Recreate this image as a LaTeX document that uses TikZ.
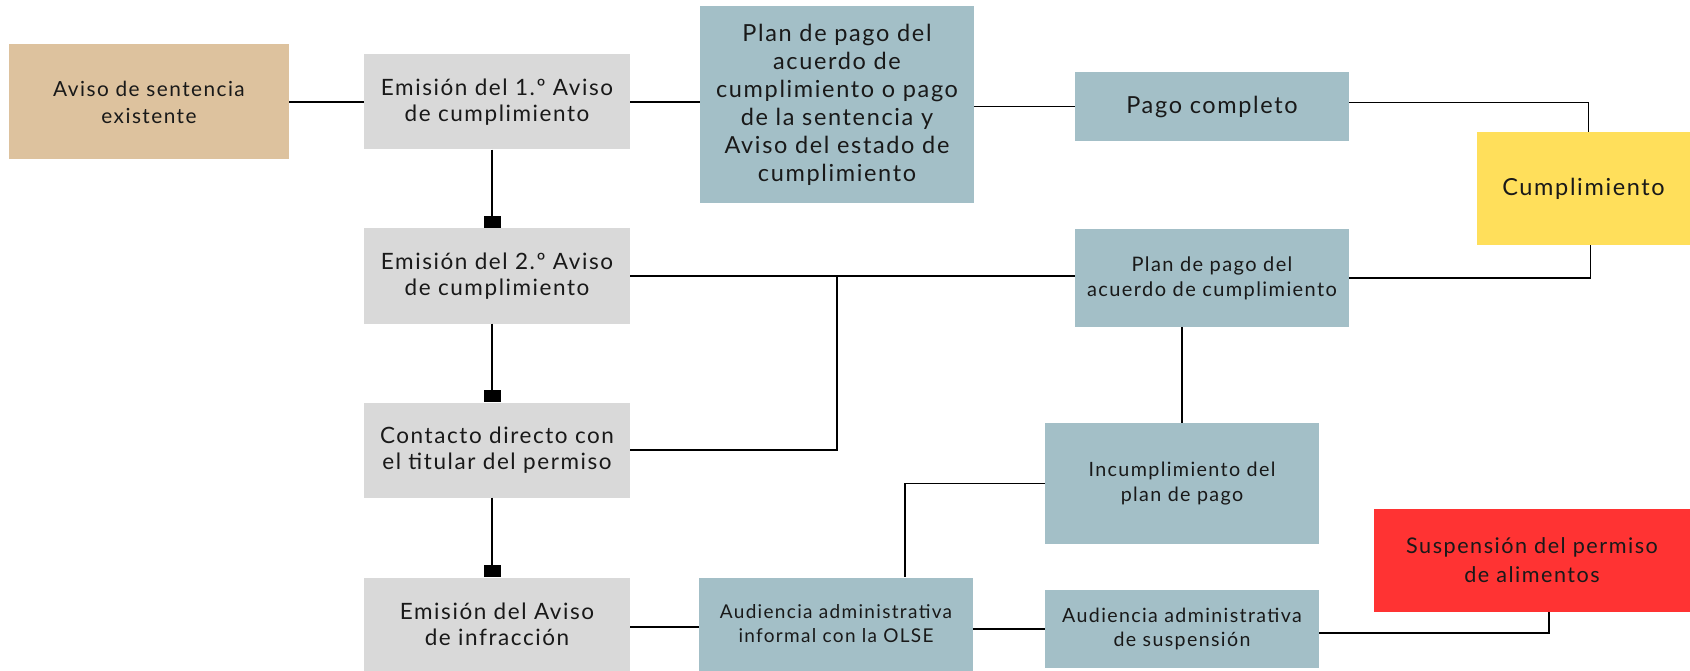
\documentclass[tikz,border=0pt]{standalone}
\usepackage{fontspec}
\setmainfont{Lato}[LetterSpace=7]
\usetikzlibrary{arrows.meta}
\definecolor{tanbox}{RGB}{221,194,158}
\definecolor{greybox}{RGB}{217,217,217}
\definecolor{bluebox}{RGB}{163,191,199}
\definecolor{yellowbox}{RGB}{255,223,91}
\definecolor{redbox}{RGB}{255,51,51}
\tikzstyle{block} = [rectangle, align=center, inner sep=0pt, text=black!90,
    font=\fontsize{22.5}{26}\selectfont]
\tikzstyle{grey block} = [block, fill=greybox, minimum width=266pt, minimum height=95pt]
\tikzstyle{blue block} = [block, fill=bluebox, minimum width=274pt]
\tikzstyle{line} = [draw, line width=1.8pt]
\tikzstyle{sqline} = [line, -{Square[length=12pt,width=17pt]}]

\begin{document}
\begin{tikzpicture}[x=1pt, y=-1pt]
    \useasboundingbox (0,0) rectangle (1690,671);
    % Place nodes
    \node [block, fill=tanbox, minimum width=280pt, minimum height=115pt, font=\fontsize{20.8}{27}\selectfont] (aviso) at (149,102) {Aviso de sentencia\\existente};
    \node [grey block, right of=aviso, node distance=348pt] (emision1) {Emisión del 1.º Aviso\\de cumplimiento};
    \node [grey block, below of=emision1, node distance=174pt] (emision2) {Emisión del 2.º Aviso\\de cumplimiento};
    \node [grey block, below of=emision2, node distance=174pt] (contacto) {Contacto directo con\\el titular del permiso};
    \node [grey block, below of=contacto, node distance=174pt, minimum height=93pt] (infraccion) {Emisión del Aviso\\de infracción};
    \node [blue block, minimum height=197pt, font=\fontsize{23.5}{28}\selectfont] (plan) at (837,104.5) {Plan de pago del\\acuerdo de\\cumplimiento o pago\\de la sentencia y\\Aviso del estado de\\cumplimiento};
    \node [blue block, right of=infraccion, node distance=339pt, minimum height=93pt, font=\fontsize{19}{24}\selectfont] (informal) {Audiencia administrativa\\informal con la OLSE};
    \node [blue block, minimum height=69pt, font=\fontsize{23.5}{26}\selectfont] (pago) at (1212,106.5) {Pago completo};
    \node [blue block, minimum height=98pt, font=\fontsize{20}{25}\selectfont] (plan2) at (1212,278) {Plan de pago del\\acuerdo de cumplimiento};
    \node [block, fill=yellowbox, minimum width=213pt, minimum height=113pt, font=\fontsize{23.5}{26}\selectfont] (cumpl) at (1583.5,188.5) {Cumplimiento};
    \node [blue block, minimum height=121pt, font=\fontsize{19.7}{25}\selectfont] (incumpl) at (1182,483.5) {Incumplimiento del\\plan de pago};
    \node [blue block, minimum height=78pt, font=\fontsize{19.6}{24}\selectfont] (audsusp) at (1182,629) {Audiencia administrativa\\de suspensión};
    \node [block, fill=redbox, minimum width=316pt, minimum height=103pt, font=\fontsize{21.6}{29}\selectfont] (suspension) at (1532,560.5) {Suspensión del permiso\\de alimentos};
    % Draw edges
    \path [line] (aviso) -- (emision1);
    \path [line] (emision1.east) -- (emision1.east -| plan.west);
    \path [line] (plan.east |- pago.west) -- (pago.west);
    \path [line] ([yshift=4pt] pago.east) -| ([xshift=5pt] cumpl.north);
    \path [line] ([xshift=7pt] cumpl.south) |- (plan2.east);
    \path [line] (emision2.east) -- (emision2.east -| plan2.west);
    \path [line] (contacto.east) -| (plan.south |- emision2.east);
    \path [sqline] ([xshift=-5pt] emision1.south) -- ([xshift=-5pt] emision2.north);
    \path [sqline] ([xshift=-5pt] emision2.south) -- ([xshift=-5pt] contacto.north);
    \path [sqline] ([xshift=-5pt] contacto.south) -- ([xshift=-5pt] infraccion.north);
    \path [line] (plan2.south -| incumpl.north) -- (incumpl);
    \path [line] (incumpl.west) -| ([xshift=69pt] informal.north);
    \path [line] ([yshift=-3pt] infraccion.east) -- ([yshift=-3pt] informal.west);
    \path [line] ([yshift=-5pt] informal.east) -- ([yshift=-5pt] informal.east -| audsusp.west);
    \path [line] ([yshift=-4pt] audsusp.east) -| ([xshift=17pt] suspension.south);
\end{tikzpicture}
\end{document}
